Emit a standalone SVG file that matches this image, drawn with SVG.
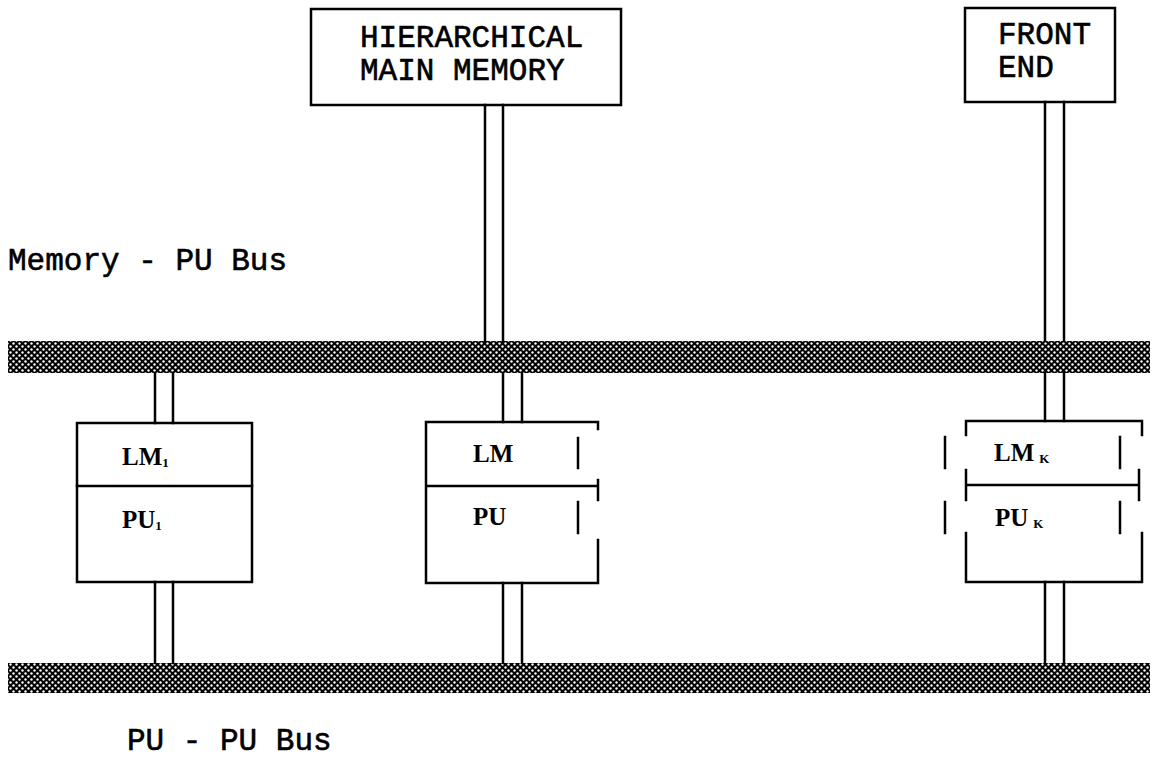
<svg xmlns="http://www.w3.org/2000/svg" width="1155" height="757" viewBox="0 0 1155 757">
<style>
.box{fill:none;stroke:#000;stroke-width:2.5}
.ln{fill:none;stroke:#000;stroke-width:2.5;stroke-linecap:square}
.mono{font-family:"Liberation Mono","Courier New",monospace;font-size:31px;fill:#000;stroke:#000;stroke-width:0.6}
.ser{font-family:"Liberation Serif","Times New Roman",serif;font-size:25px;font-weight:bold;fill:#000}
.sub{font-size:13px}
.bus{fill:url(#dots)}
</style>
<defs>
<pattern id="dots" width="6" height="6" patternUnits="userSpaceOnUse">
<rect width="6" height="6" fill="#000"/>
<circle cx="1.5" cy="1.5" r="1.2" fill="#fff"/>
<circle cx="4.5" cy="4.5" r="1.2" fill="#fff"/>
</pattern>
</defs>
<rect width="1155" height="757" fill="#fff"/>
<g id="memory-bus"><rect class="bus" x="8" y="341" width="1142" height="32"/></g>
<g id="pu-bus"><rect class="bus" x="8" y="663" width="1142" height="30"/></g>
<g id="connectors">
<path class="ln" d="M485 105V341M503 105V341"/>
<path class="ln" d="M1045 102V341M1064 102V341"/>
<path class="ln" d="M155 373V423M173 373V423M155 582V663M173 582V663"/>
<path class="ln" d="M503 373V422M522 373V422M503 583V663M522 583V663"/>
<path class="ln" d="M1045 373V421M1064 373V421M1045 582V663M1064 582V663"/>
</g>
<g id="hmm">
<rect class="box" x="311" y="9" width="310" height="96"/>
<text class="mono" x="360" y="47">HIERARCHICAL</text>
<text class="mono" x="360" y="80">MAIN MEMORY</text>
</g>
<g id="front-end">
<rect class="box" x="965" y="8" width="150" height="94"/>
<text class="mono" x="998" y="44">FRONT</text>
<text class="mono" x="998" y="77">END</text>
</g>
<g id="pe1">
<rect class="box" x="77" y="423" width="175" height="159"/>
<path class="ln" d="M77 486H252"/>
<text class="ser" x="122" y="465">LM<tspan class="sub" dy="2">1</tspan></text>
<text class="ser" x="122" y="528">PU<tspan class="sub" dy="2">1</tspan></text>
</g>
<g id="pe2">
<path class="ln" d="M598 429V422H426V583H598V540M598 480V500M426 486H598M578 438V468M578 502V533"/>
<text class="ser" x="473" y="462">LM</text>
<text class="ser" x="473" y="525">PU</text>
</g>
<g id="pek">
<path class="ln" d="M966 435V421H1142V435M966 470V500M1139 470V500M966 533V582H1142V533M966 485H1139M945 437V468M945 502V533M1120 437V468M1120 502V533"/>
<text class="ser" x="994" y="461">LM<tspan class="sub" dx="5" dy="2">K</tspan></text>
<text class="ser" x="995" y="526">PU<tspan class="sub" dx="5" dy="2">K</tspan></text>
</g>
<g id="labels">
<text class="mono" x="8" y="270">Memory - PU Bus</text>
<text class="mono" x="127" y="750">PU - PU Bus</text>
</g>
</svg>
